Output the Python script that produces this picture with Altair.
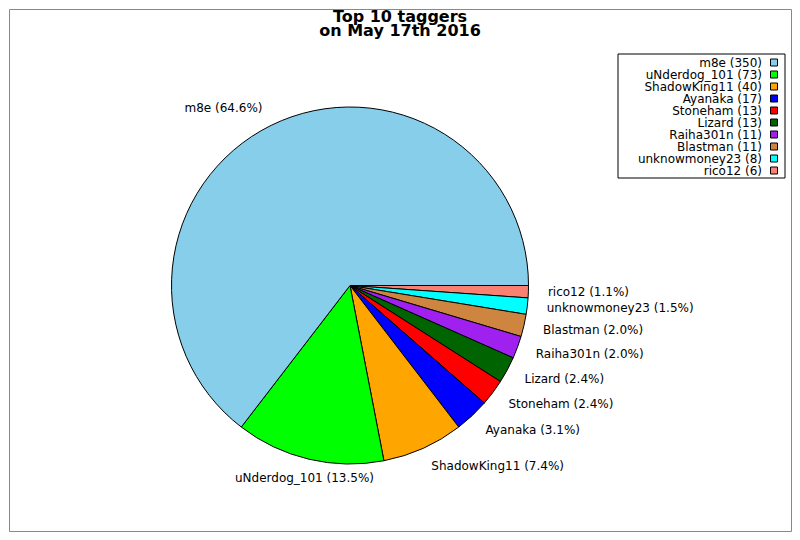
import math
import altair as alt
import pandas as pd

names = ["m8e", "uNderdog_101", "ShadowKing11", "Ayanaka", "Stoneham",
         "Lizard", "Raiha301n", "Blastman", "unknowmoney23", "rico12"]
counts = [350, 73, 40, 17, 13, 13, 11, 11, 8, 6]
colors = ["#87ceeb", "#00ff00", "#ffa500", "#0000ff", "#ff0000",
          "#006400", "#a020f0", "#cd853f", "#00ffff", "#fa8072"]
title_lines = ["Top 10 taggers", "on May 17th 2016"]

W, H = 782, 522
CX, CY = 341, 276.5
R = 178.5
LABEL_R = 198

total = sum(counts)
rows = []
cum = 0
# slices run clockwise from 3 o'clock starting with the last entry
for i in reversed(range(len(names))):
    start, end = cum, cum + counts[i]
    cum = end
    mid = (start + end) / 2
    ang = math.pi / 2 + 2 * math.pi * mid / total
    s = math.sin(ang)
    align = "center" if abs(s) < 0.3 else ("left" if s > 0 else "right")
    rows.append(dict(name=names[i], count=counts[i], start=start, end=end,
                     mid=mid, align=align,
                     label=f"{names[i]} ({counts[i] / total * 100:.1f}%)",
                     legend=f"{names[i]} ({counts[i]})"))
df = pd.DataFrame(rows)
one = pd.DataFrame({"k": [0]})

theta_scale = alt.Scale(domain=[0, total],
                        range=[math.pi / 2, math.pi / 2 + 2 * math.pi])
color = alt.Color("name:N", scale=alt.Scale(domain=names, range=colors),
                  legend=None)

arcs = alt.Chart(df).mark_arc(outerRadius=R, stroke="black",
                              strokeWidth=1).encode(
    theta=alt.Theta("start:Q", scale=theta_scale, stack=False),
    theta2="end:Q",
    color=color,
    x=alt.value(CX), y=alt.value(CY),
)

label_layers = []
for a in ["left", "right", "center"]:
    label_layers.append(
        alt.Chart(df).transform_filter(alt.datum.align == a).mark_text(
            radius=LABEL_R, align=a, baseline="middle", fontSize=12,
            font="DejaVu Sans", color="black").encode(
            theta=alt.Theta("mid:Q", scale=theta_scale, stack=False),
            text="label:N",
            x=alt.value(CX), y=alt.value(CY),
        )
    )

leg_box = alt.Chart(one).mark_rect(fill="white", stroke="black",
                                   strokeWidth=1).encode(
    x=alt.value(609), x2=alt.value(776), y=alt.value(45), y2=alt.value(169))

leg_y = alt.Y("name:N", sort=names, axis=None,
              scale=alt.Scale(type="point", range=[53.5, 161.5], padding=0))

leg_text = alt.Chart(df).mark_text(align="right", baseline="middle",
                                   fontSize=12, font="DejaVu Sans",
                                   color="black").encode(
    y=leg_y, x=alt.value(753), text="legend:N")

leg_sym = alt.Chart(df).mark_square(size=49, filled=True, opacity=1,
                                    stroke="black", strokeWidth=1).encode(
    y=leg_y, x=alt.value(765), color=color)

title = alt.Chart(one).mark_text(text=title_lines, fontSize=16,
                                 fontWeight="bold", font="DejaVu Sans",
                                 baseline="alphabetic", align="center",
                                 lineHeight=14.5, color="black").encode(
    x=alt.value(W / 2), y=alt.value(12.5))

chart = alt.layer(arcs, *label_layers, leg_box, leg_text, leg_sym, title).properties(
    width=W, height=H, padding=1,
    autosize=alt.AutoSizeParams(type="none"),
).configure_view(stroke="#888888", strokeWidth=1)

chart.save("out.html", embed_options={"renderer": "svg", "actions": False})
